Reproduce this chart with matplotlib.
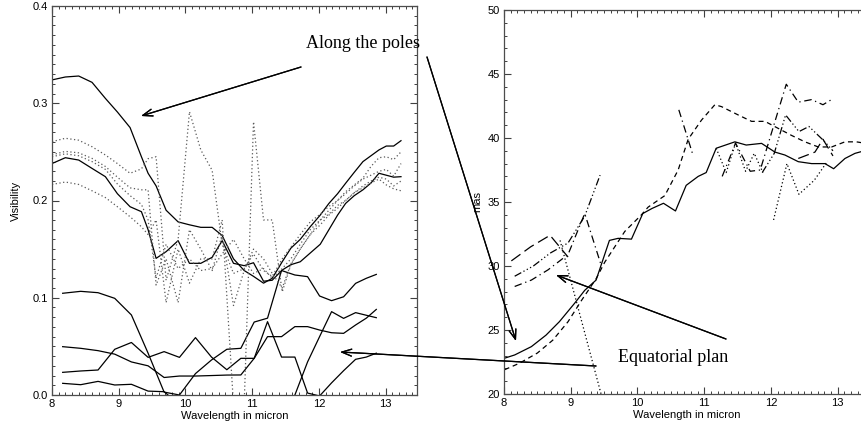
import numpy as np
import matplotlib
matplotlib.use("Agg")
import matplotlib.pyplot as plt
from matplotlib.ticker import MultipleLocator

nan = np.nan

# ---------------- left panel: visibilities ----------------
# coarse wavelength grid (lower, solid curves)
wl_lo = [8.16, 8.43, 8.69, 8.94, 9.19, 9.44, 9.68, 9.91, 10.15, 10.39, 10.62, 10.83,
         11.03, 11.23, 11.44, 11.64, 11.83, 12.01, 12.19, 12.37, 12.55, 12.71, 12.86]
vis_b1 = [0.1046, 0.1066, 0.1052, 0.0994, 0.0823, 0.043, 0.003, 0.0, 0.022, 0.036, 0.047, 0.048,
          0.075, 0.079, 0.128, 0.1234, 0.1217, 0.1018, 0.097, 0.101, 0.1148, 0.12, 0.124]
vis_b2 = [0.0497, 0.048, 0.0456, 0.042, 0.034, 0.030, 0.018, 0.0195, 0.0195, 0.02, 0.0205, 0.0206,
          0.0377, 0.0754, 0.039, 0.039, 0.002, -0.001, 0.0125, 0.025, 0.0367, 0.039, 0.043]
vis_b3 = [0.0233, 0.0247, 0.0257, 0.047, 0.054, 0.0387, 0.0446, 0.0387, 0.059, 0.039, 0.026, 0.0377,
          0.0377, 0.06, 0.06, 0.0703, 0.0703, 0.0668, 0.064, 0.0634, 0.072, 0.079, 0.088]
vis_b4 = [0.012, 0.0106, 0.014, 0.0103, 0.011, 0.004, 0.0034, -0.01, -0.03, -0.04, -0.04, -0.04,
          -0.04, -0.04, -0.03, 0.0, 0.034, 0.06, 0.0857, 0.0788, 0.0847, 0.082, 0.0795]

# fine wavelength grid (upper curves)
wl_hi = [8.00, 8.20, 8.40, 8.60, 8.80, 8.98, 9.17, 9.34, 9.44, 9.56, 9.71, 9.89, 10.06, 10.23,
         10.40, 10.55, 10.72, 10.88, 11.02, 11.17, 11.30, 11.45, 11.58, 11.72, 11.87, 12.02,
         12.15, 12.28, 12.40, 12.53, 12.66, 12.78, 12.90, 13.01, 13.12, 13.23]
vis_s1 = [0.324, 0.327, 0.328, 0.3215, 0.305, 0.291, 0.275, 0.245, 0.228, 0.215, 0.19, 0.178,
          0.175, 0.1724, 0.1724, 0.164, 0.14, 0.128, 0.122, 0.115, 0.12, 0.137, 0.151, 0.16,
          0.173, 0.185, 0.197, 0.207, 0.2177, 0.229, 0.24, 0.246, 0.252, 0.256, 0.256, 0.2615]
vis_s2 = [0.238, 0.244, 0.2416, 0.233, 0.2245, 0.207, 0.1936, 0.1885, 0.17, 0.1405, 0.1474, 0.1587,
          0.1354, 0.1354, 0.1416, 0.1587, 0.1354, 0.133, 0.136, 0.117, 0.118, 0.1285, 0.134, 0.137,
          0.146, 0.155, 0.17, 0.185, 0.197, 0.205, 0.211, 0.218, 0.228, 0.226, 0.224, 0.2245]
vis_d1 = [0.2605, 0.264, 0.262, 0.2553, 0.2468, 0.238, 0.228, 0.2325, 0.243, 0.245, 0.118, 0.16,
          0.2913, 0.252, 0.231, 0.155, 0.125, 0.13, 0.145, 0.128, 0.122, 0.14, 0.152, 0.165,
          0.178, 0.186, 0.194, 0.2, 0.209, 0.216, 0.223, 0.235, 0.244, 0.245, 0.242, 0.25]
vis_d2 = [0.247, 0.2505, 0.249, 0.2433, 0.235, 0.224, 0.213, 0.211, 0.211, 0.113, 0.14, 0.095,
          0.17, 0.15, 0.128, 0.165, 0.092, 0.128, 0.15, 0.14, 0.125, 0.11, 0.135, 0.15,
          0.165, 0.18, 0.19, 0.2, 0.207, 0.215, 0.222, 0.226, 0.23, 0.232, 0.225, 0.238]
vis_d3 = [0.245, 0.248, 0.246, 0.24, 0.232, 0.217, 0.205, 0.196, 0.18, 0.12, 0.155, 0.13,
          0.14, 0.128, 0.13, 0.145, 0.16, 0.14, 0.125, 0.13, 0.12, 0.13, 0.14, 0.155,
          0.17, 0.18, 0.186, 0.195, 0.2, 0.208, 0.215, 0.22, 0.224, 0.222, 0.215, 0.22]
vis_d4 = [0.2165, 0.219, 0.2165, 0.21, 0.203, 0.1936, 0.1833, 0.173, 0.165, 0.18, 0.095, 0.15,
          0.115, 0.14, 0.14, 0.18, -0.01, -0.01, 0.281, 0.18, 0.18, 0.106, 0.134, 0.15,
          0.165, 0.175, 0.185, 0.192, 0.2, 0.208, 0.213, 0.218, 0.222, 0.216, 0.212, 0.21]

# ---------------- right panel: sizes in mas ----------------
wl_sol = [8.01, 8.16, 8.41, 8.63, 8.83, 9.06, 9.21, 9.38, 9.58, 9.71, 9.91, 10.08, 10.22, 10.39,
          10.57, 10.73, 10.91, 11.03, 11.18, 11.46, 11.63, 11.86, 12.06, 12.21, 12.41, 12.61,
          12.81, 12.94, 13.11, 13.26, 13.40]
mas_sol = [22.8, 23.05, 23.7, 24.6, 25.65, 27.1, 28.1, 28.9, 32.0, 32.16, 32.1, 34.1, 34.5, 34.9,
           34.3, 36.3, 37.0, 37.3, 39.2, 39.7, 39.45, 39.58, 38.9, 38.67, 38.15, 38.0,
           38.0, 37.6, 38.4, 38.8, 39.0]
wl_dash = [8.01, 8.23, 8.5, 8.73, 8.96, 9.16, 9.38, 9.51, 9.81, 10.06, 10.16, 10.41, 10.61, 10.76,
           10.96, 11.16, 11.26, 11.51, 11.71, 11.91, 12.11, 12.31, 12.51, 12.71, 12.91, 13.11,
           13.28, 13.40]
mas_dash = [21.9, 22.4, 23.2, 24.2, 25.65, 27.3, 29.0, 30.3, 32.7, 34.0, 34.6, 35.5, 37.5, 39.9,
            41.4, 42.6, 42.45, 41.8, 41.3, 41.3, 40.75, 40.2, 39.7, 39.3, 39.3, 39.7,
            39.7, 39.6]
wl_dot = [8.84, 9.46, nan, 11.18, 11.33, 11.47, 11.62, 11.75, 11.88, nan,
          12.04, 12.24, 12.42, 12.65, 12.85]
mas_dot = [32.0, 19.9, nan, 39.2, 37.3, 39.6, 37.4, 38.8, 37.3, nan,
           33.6, 38.0, 35.6, 36.7, 38.2]
wl_dd = [8.16, 8.41, 8.66, 8.96, 9.21, 9.46, nan, 10.62, 10.83, nan,
         11.27, 11.47, 11.69, 11.84, 12.23, 12.41, 12.61, 12.78, 12.94]
mas_dd = [28.4, 28.9, 29.7, 30.9, 34.1, 30.0, nan, 42.2, 38.7, nan,
          37.0, 39.6, 37.4, 37.5, 44.2, 42.8, 43.0, 42.6, 43.1]
wl_d3 = [8.16, 8.44, 8.69, 8.96, 9.21, 9.44, nan, 11.87, 12.05, 12.22, 12.42, 12.57, 12.79, 12.93]
mas_d3 = [29.2, 30.0, 31.0, 31.8, 33.9, 37.1, nan, 37.3, 38.8, 41.8, 40.5, 40.9, 39.8, 39.0]
wl_ld = [8.11, 8.40, 8.69, 8.96, nan, 12.41, 12.66, 12.78, 12.93]
mas_ld = [30.4, 31.5, 32.4, 30.7, nan, 38.4, 38.9, 39.9, 38.6]

plt.rcParams['font.family'] = ['Liberation Sans', 'DejaVu Sans']
fig = plt.figure(figsize=(8.62, 4.29), dpi=100)

W, H = 862.0, 429.0
axL = fig.add_axes([52 / W, 1 - 395 / H, 365 / W, 389 / H])
axR = fig.add_axes([504 / W, 1 - 394 / H, 365 / W, 384 / H])

lw = 0.9
for y in [vis_b1, vis_b2, vis_b3, vis_b4]:
    axL.plot(wl_lo, y, color='k', lw=lw)
for y in [vis_s1, vis_s2]:
    axL.plot(wl_hi, y, color='k', lw=lw)
for y in [vis_d1, vis_d2, vis_d3, vis_d4]:
    axL.plot(wl_hi, y, color='0.35', lw=lw, linestyle=(0, (1, 2)))

axR.plot(wl_sol, mas_sol, color='k', lw=lw)
axR.plot(wl_dash, mas_dash, color='k', lw=lw, linestyle=(0, (4, 3)))
axR.plot(wl_dot, mas_dot, color='k', lw=lw, linestyle=(0, (1, 2)))
axR.plot(wl_dd, mas_dd, color='k', lw=lw, linestyle=(0, (6, 3, 1, 3)))
axR.plot(wl_d3, mas_d3, color='k', lw=lw, linestyle=(0, (6, 2, 1, 2, 1, 2, 1, 2)))
axR.plot(wl_ld, mas_ld, color='k', lw=lw, linestyle=(0, (9, 4)))

axL.set_xlim(8, 13.47)
axL.set_ylim(0, 0.4)
axR.set_xlim(8, 13.47)
axR.set_ylim(20, 50)

for ax in (axL, axR):
    ax.xaxis.set_major_locator(MultipleLocator(1))
    ax.xaxis.set_minor_locator(MultipleLocator(0.1))
    ax.tick_params(which='both', direction='in', top=True, right=True,
                   labelsize=8, color='0.25', pad=3)
    ax.tick_params(which='major', length=5, width=0.8)
    ax.tick_params(which='minor', length=2.5, width=0.7)
    for s in ax.spines.values():
        s.set_linewidth(0.9)
        s.set_color('0.3')
    ax.set_xlabel('Wavelength in micron', fontsize=8, labelpad=1)

axL.yaxis.set_major_locator(MultipleLocator(0.1))
axL.yaxis.set_minor_locator(MultipleLocator(0.01))
axL.set_yticks([0, 0.1, 0.2, 0.3, 0.4])
axL.set_yticklabels(['0.0', '0.1', '0.2', '0.3', '0.4'])
axL.set_ylabel('Visibility', fontsize=8, labelpad=8)

axR.yaxis.set_major_locator(MultipleLocator(5))
axR.yaxis.set_minor_locator(MultipleLocator(1))
axR.set_ylabel('mas', fontsize=8, labelpad=4)

# annotations in figure pixels (origin bottom-left)
ap = dict(arrowstyle='->,head_length=0.7,head_width=0.25', lw=0.9, color='k',
          shrinkA=0, shrinkB=0)
fig.text(306 / W, 381 / H, 'Along the poles', family='Liberation Serif',
         fontsize=13, va='baseline', ha='left')
fig.text(618 / W, 67 / H, 'Equatorial plan', family='Liberation Serif',
         fontsize=13, va='baseline', ha='left')
for tail, head in [((301, 362), (141, 313)), ((427, 372), (516, 88)),
                   ((726, 90), (556, 154)), ((596, 63), (340, 77))]:
    fig.add_artist(plt.annotate('', xy=head, xytext=tail, xycoords='figure pixels',
                                textcoords='figure pixels', arrowprops=ap,
                                annotation_clip=False))

fig.savefig('out.png', dpi=100)
